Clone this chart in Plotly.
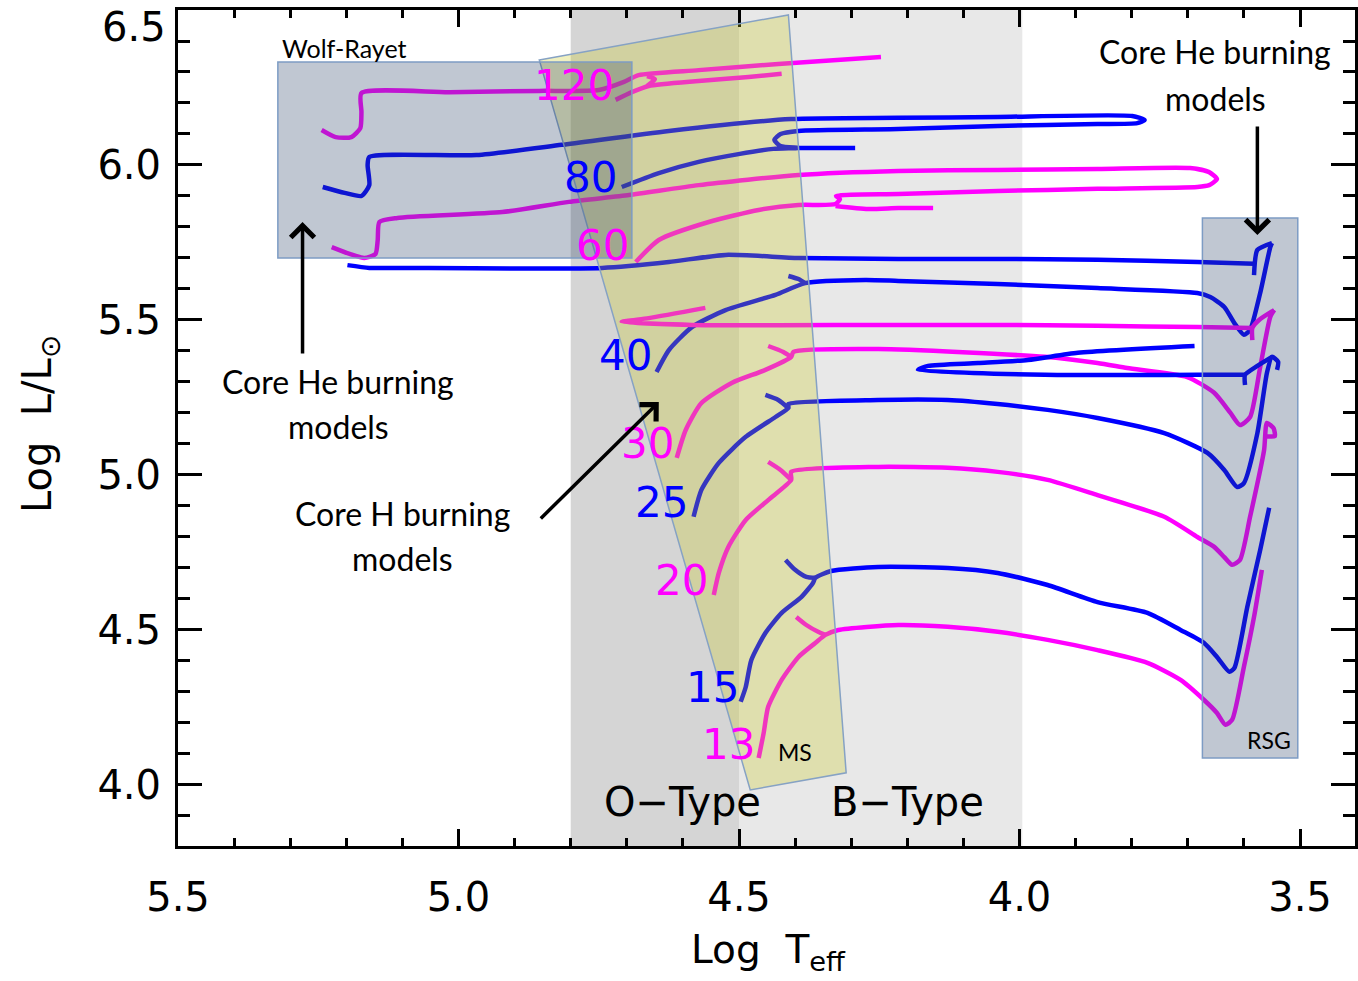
import plotly.graph_objects as go

MAGENTA = "#ff00ff"
BLUE = "#0000ff"

# ---------------- evolutionary tracks (log Teff, log L/Lsun) ----------------
m120_ms_x = [4.720, 4.691, 4.661, 4.572, 4.483, 4.424]
m120_ms_y = [6.210, 6.235, 6.255, 6.271, 6.284, 6.294]
m120_post_x = [5.244, 5.219, 5.191, 5.175, 5.173, 5.173, 5.016, 4.856, 4.750, 4.705, 4.679, 4.572, 4.430, 4.247]
m120_post_y = [6.113, 6.090, 6.090, 6.119, 6.171, 6.232, 6.235, 6.239, 6.242, 6.268, 6.290, 6.306, 6.326, 6.348]
m120_hook_x = [4.664, 4.650, 4.657, 4.664]
m120_hook_y = [6.287, 6.277, 6.265, 6.255]

m80_x = [4.709, 4.643, 4.572, 4.501, 4.439, 4.394, 4.426, 4.437, 4.426, 4.394, 4.216, 4.039, 3.861, 3.790,
         3.777, 3.799, 4.039, 4.216, 4.407, 4.625, 4.816, 4.968, 5.159, 5.162, 5.159, 5.173, 5.203, 5.242]
m80_y = [5.929, 5.974, 6.010, 6.035, 6.052, 6.055, 6.061, 6.081, 6.100, 6.110, 6.116, 6.126, 6.132, 6.135,
         6.145, 6.158, 6.155, 6.152, 6.148, 6.110, 6.065, 6.032, 6.026, 6.000, 5.935, 5.900, 5.910, 5.929]
m80_tail_x = [4.394, 4.293]
m80_tail_y = [6.055, 6.055]

m60_x = [4.684, 4.643, 4.554, 4.465, 4.394, 4.328, 4.320, 4.327, 4.216, 4.039, 3.861, 3.683, 3.662, 3.648,
         3.662, 3.696, 3.861, 4.039, 4.216, 4.394, 4.572, 4.696, 4.803, 4.922, 5.109, 5.141, 5.144, 5.148,
         5.168, 5.194, 5.226]
m60_y = [5.687, 5.758, 5.816, 5.855, 5.871, 5.874, 5.890, 5.900, 5.906, 5.916, 5.923, 5.929, 5.935, 5.955,
         5.977, 5.990, 5.987, 5.984, 5.981, 5.968, 5.935, 5.903, 5.881, 5.848, 5.829, 5.816, 5.758, 5.713,
         5.700, 5.713, 5.735]
m60_tail_x = [4.328, 4.270, 4.216, 4.154]
m60_tail_y = [5.868, 5.858, 5.861, 5.861]

m40_x = [4.647, 4.625, 4.584, 4.524, 4.435, 4.382, 4.275, 4.216, 4.039, 3.861, 3.683, 3.660, 3.635, 3.617,
         3.600, 3.589, 3.571, 3.553, 3.550]
m40_y = [5.332, 5.403, 5.477, 5.532, 5.581, 5.619, 5.629, 5.626, 5.616, 5.603, 5.587, 5.574, 5.542, 5.490,
         5.452, 5.468, 5.587, 5.735, 5.748]
m40_hook_x = [4.382, 4.394, 4.412]
m40_hook_y = [5.619, 5.632, 5.642]
m40_rsg_x = [3.550, 3.576, 3.582]
m40_rsg_y = [5.748, 5.726, 5.645]
m40_back_x = [3.582, 3.683, 3.861, 4.039, 4.216, 4.394, 4.524, 4.625, 4.744, 5.111, 5.159, 5.198]
m40_back_y = [5.681, 5.687, 5.694, 5.697, 5.697, 5.700, 5.710, 5.687, 5.668, 5.668, 5.668, 5.677]

m30_x = [4.611, 4.595, 4.567, 4.513, 4.453, 4.407, 4.403, 4.252, 3.955, 3.861, 3.808, 3.701, 3.653, 3.624,
         3.607, 3.589, 3.571, 3.553, 3.546]
m30_y = [5.055, 5.145, 5.232, 5.297, 5.339, 5.381, 5.397, 5.406, 5.381, 5.361, 5.345, 5.316, 5.265, 5.200,
         5.161, 5.187, 5.348, 5.510, 5.532]
m30_hook_x = [4.407, 4.421, 4.448]
m30_hook_y = [5.381, 5.397, 5.416]
m30_rsg_x = [3.546, 3.573, 3.585, 3.585]
m30_rsg_y = [5.532, 5.500, 5.474, 5.435]
m30_back_x = [3.585, 3.683, 3.861, 4.039, 4.252, 4.584, 4.709, 4.661, 4.560]
m30_back_y = [5.474, 5.477, 5.481, 5.484, 5.484, 5.484, 5.494, 5.506, 5.539]

m25_x = [4.581, 4.567, 4.536, 4.488, 4.435, 4.412, 4.412, 4.252, 4.128, 4.039, 3.950, 3.861, 3.742, 3.665,
         3.635, 3.612, 3.600, 3.576, 3.559, 3.550, 3.539, 3.541]
m25_y = [4.865, 4.952, 5.039, 5.123, 5.187, 5.216, 5.229, 5.242, 5.242, 5.229, 5.210, 5.184, 5.135, 5.071,
         5.016, 4.961, 4.974, 5.135, 5.329, 5.381, 5.365, 5.339]
m25_hook_x = [4.412, 4.430, 4.453]
m25_hook_y = [5.216, 5.242, 5.258]
m25_rsg_x = [3.550, 3.576, 3.598, 3.598]
m25_rsg_y = [5.381, 5.352, 5.323, 5.290]
m25_back_x = [3.598, 3.683, 3.955, 4.181, 4.163, 4.074, 3.985, 3.896, 3.688]
m25_back_y = [5.323, 5.323, 5.323, 5.339, 5.352, 5.361, 5.371, 5.394, 5.416]

m20_x = [4.545, 4.536, 4.519, 4.488, 4.448, 4.407, 4.407, 4.252, 4.128, 4.039, 3.950, 3.861, 3.742, 3.683,
         3.653, 3.635, 3.621, 3.607, 3.589, 3.564, 3.559, 3.547, 3.545, 3.560]
m20_y = [4.613, 4.684, 4.768, 4.855, 4.919, 4.984, 5.010, 5.026, 5.023, 5.010, 4.984, 4.935, 4.865, 4.800,
         4.768, 4.735, 4.710, 4.726, 4.865, 5.081, 5.168, 5.150, 5.125, 5.125]
m20_hook_x = [4.407, 4.426, 4.448]
m20_hook_y = [4.984, 5.016, 5.042]

m15_x = [4.497, 4.488, 4.478, 4.453, 4.424, 4.389, 4.368, 4.364, 4.336, 4.252, 4.128, 4.039, 3.950, 3.861,
         3.772, 3.713, 3.671, 3.648, 3.626, 3.617, 3.594, 3.571, 3.555]
m15_y = [4.268, 4.316, 4.403, 4.490, 4.555, 4.606, 4.652, 4.668, 4.690, 4.703, 4.700, 4.684, 4.645, 4.590,
         4.555, 4.500, 4.458, 4.413, 4.365, 4.377, 4.574, 4.758, 4.894]
m15_hook_x = [4.364, 4.380, 4.400, 4.417]
m15_hook_y = [4.668, 4.671, 4.694, 4.726]

m13_x = [4.465, 4.456, 4.448, 4.424, 4.394, 4.364, 4.346, 4.323, 4.216, 4.128, 4.039, 3.950, 3.861, 3.772,
         3.713, 3.671, 3.648, 3.633, 3.621, 3.600, 3.582, 3.568]
m13_y = [4.087, 4.168, 4.252, 4.339, 4.413, 4.458, 4.484, 4.500, 4.516, 4.510, 4.494, 4.468, 4.435, 4.394,
         4.339, 4.274, 4.232, 4.194, 4.210, 4.381, 4.542, 4.694]
m13_hook_x = [4.346, 4.359, 4.380, 4.398]
m13_hook_y = [4.484, 4.494, 4.516, 4.542]

# mass labels
mass_labels = ["120", "80", "60", "40", "30", "25", "20", "15", "13"]
mass_label_x = [4.794, 4.764, 4.743, 4.702, 4.664, 4.638, 4.602, 4.547, 4.519]
mass_label_y = [6.258, 5.961, 5.739, 5.384, 5.103, 4.910, 4.661, 4.313, 4.129]
mass_colors = [MAGENTA, BLUE, MAGENTA, BLUE, MAGENTA, BLUE, MAGENTA, BLUE, MAGENTA]

# regions
wr_box_x = [5.322, 4.691]
wr_box_y = [5.700, 6.332]
rsg_box_x = [3.674, 3.504]
rsg_box_y = [4.087, 5.829]
ms_poly_x = [4.856, 4.412, 4.309, 4.480]
ms_poly_y = [6.339, 6.484, 4.039, 3.984]
o_type_x = [4.8, 4.5]
b_type_x = [4.5, 3.995]

x_ticks = [5.5, 5.0, 4.5, 4.0, 3.5]
y_ticks = [4.0, 4.5, 5.0, 5.5, 6.0, 6.5]

segments = [
    (m120_ms_x, m120_ms_y, MAGENTA), (m120_post_x, m120_post_y, MAGENTA), (m120_hook_x, m120_hook_y, MAGENTA),
    (m80_x, m80_y, BLUE), (m80_tail_x, m80_tail_y, BLUE),
    (m60_x, m60_y, MAGENTA), (m60_tail_x, m60_tail_y, MAGENTA),
    (m40_x, m40_y, BLUE), (m40_hook_x, m40_hook_y, BLUE), (m40_rsg_x, m40_rsg_y, BLUE), (m40_back_x, m40_back_y, BLUE),
    (m30_x, m30_y, MAGENTA), (m30_hook_x, m30_hook_y, MAGENTA), (m30_rsg_x, m30_rsg_y, MAGENTA),
    (m30_back_x, m30_back_y, MAGENTA),
    (m25_x, m25_y, BLUE), (m25_hook_x, m25_hook_y, BLUE), (m25_rsg_x, m25_rsg_y, BLUE), (m25_back_x, m25_back_y, BLUE),
    (m20_x, m20_y, MAGENTA), (m20_hook_x, m20_hook_y, MAGENTA),
    (m15_x, m15_y, BLUE), (m15_hook_x, m15_hook_y, BLUE),
    (m13_x, m13_y, MAGENTA), (m13_hook_x, m13_hook_y, MAGENTA),
]

fig = go.Figure()
for xs, ys, col in segments:
    fig.add_trace(go.Scatter(x=xs, y=ys, mode="lines", showlegend=False, hoverinfo="skip",
                             line=dict(color=col, width=4.5, shape="spline", smoothing=0.6)))

shapes = [
    dict(type="rect", xref="x", yref="paper", x0=o_type_x[0], x1=o_type_x[1], y0=0, y1=1,
         fillcolor="#d5d5d5", line=dict(width=0), layer="below"),
    dict(type="rect", xref="x", yref="paper", x0=b_type_x[0], x1=b_type_x[1], y0=0, y1=1,
         fillcolor="#e8e8e8", line=dict(width=0), layer="below"),
    dict(type="path", xref="x", yref="y",
         path="M " + " L ".join(f"{a},{b}" for a, b in zip(ms_poly_x, ms_poly_y)) + " Z",
         fillcolor="rgba(200,200,20,0.27)", line=dict(color="#86a2c4", width=1.5), layer="above"),
    dict(type="rect", xref="x", yref="y", x0=wr_box_x[0], x1=wr_box_x[1], y0=wr_box_y[0], y1=wr_box_y[1],
         fillcolor="rgba(48,71,105,0.3)", line=dict(color="#7d9cc4", width=1.5), layer="above"),
    dict(type="rect", xref="x", yref="y", x0=rsg_box_x[0], x1=rsg_box_x[1], y0=rsg_box_y[0], y1=rsg_box_y[1],
         fillcolor="rgba(48,71,105,0.3)", line=dict(color="#7d9cc4", width=1.5), layer="above"),
]

HERSHEY = "DejaVu Sans"
CAL = "Lato"
ann = []
for t, x, y, c in zip(mass_labels, mass_label_x, mass_label_y, mass_colors):
    ann.append(dict(x=x, y=y, xref="x", yref="y", text=t, showarrow=False,
                    font=dict(family=HERSHEY, size=42, color=c)))

def txt(x, y, s, size, family=CAL, xanchor="center"):
    return dict(x=x, y=y, xref="x", yref="y", text=s, showarrow=False, xanchor=xanchor, yanchor="middle",
                font=dict(family=family, size=size, color="black"))

ann += [
    txt(5.319, 6.377, "Wolf-Rayet", 25, xanchor="left"),
    txt(3.651, 6.365, "Core He burning", 32),
    txt(3.651, 6.216, "models", 32),
    txt(5.214, 5.303, "Core He burning", 32),
    txt(5.214, 5.155, "models", 32),
    txt(5.100, 4.877, "Core H burning", 32),
    txt(5.100, 4.732, "models", 32),
    txt(4.400, 4.106, "MS", 23),
    txt(3.555, 4.145, "RSG", 23),
    txt(4.600, 3.945, "O\u2212Type", 40, family=HERSHEY),
    txt(4.200, 3.945, "B\u2212Type", 40, family=HERSHEY),
    # 6.5 tick label (shifted down like the original)
    dict(x=-0.0085, y=6.445, xref="paper", yref="y", text="6.5", showarrow=False, xanchor="right",
         yanchor="middle", font=dict(family=HERSHEY, size=40, color="black")),
    # axis titles
    dict(x=0.502, y=-0.127, xref="paper", yref="paper", text="Log  T<sub>eff</sub>", showarrow=False,
         xanchor="center", yanchor="middle", font=dict(family=HERSHEY, size=39, color="black")),
    dict(x=-0.117, y=0.505, xref="paper", yref="paper", text="Log  L/L<sub>\u2299</sub>", showarrow=False,
         xanchor="center", yanchor="middle", textangle=-90, font=dict(family=HERSHEY, size=40, color="black")),
]

def arrow(x, y, ax, ay):
    return dict(x=x, y=y, ax=ax, ay=ay, xref="x", yref="y", axref="x", ayref="y", text="",
                showarrow=True, arrowhead=4, arrowsize=1.3, arrowwidth=3.5, arrowcolor="black")

ann += [
    arrow(5.278, 5.816, 5.278, 5.387),
    arrow(3.576, 5.774, 3.576, 6.129),
    arrow(4.643, 5.235, 4.856, 4.855),
]

axis_common = dict(showline=True, linewidth=3, linecolor="black", mirror="ticks", ticks="inside",
                   tickwidth=3, tickcolor="black", showgrid=False, zeroline=False,
                   tickfont=dict(family=HERSHEY, size=40, color="black"))

fig.update_layout(
    width=1358, height=981, margin=dict(l=178, r=0, t=10, b=135),
    paper_bgcolor="white", plot_bgcolor="white",
    shapes=shapes, annotations=ann, showlegend=False,
    xaxis=dict(range=[5.5, 3.402], tickmode="array", tickvals=x_ticks,
               ticktext=[f"{v:.1f}" for v in x_ticks], ticklen=17, ticklabelstandoff=14,
               minor=dict(tickmode="linear", tick0=0, dtick=0.1, ticklen=8, tickwidth=2.5,
                          ticks="inside", tickcolor="black"),
               **axis_common),
    yaxis=dict(range=[3.803, 6.5], tickmode="array", tickvals=y_ticks,
               ticktext=[f"{v:.1f}" if v < 6.4 else "" for v in y_ticks], ticklen=24, ticklabelstandoff=6,
               minor=dict(tickmode="linear", tick0=0, dtick=0.1, ticklen=12, tickwidth=2.5,
                          ticks="inside", tickcolor="black"),
               **axis_common),
)

fig.write_html("out.html")
